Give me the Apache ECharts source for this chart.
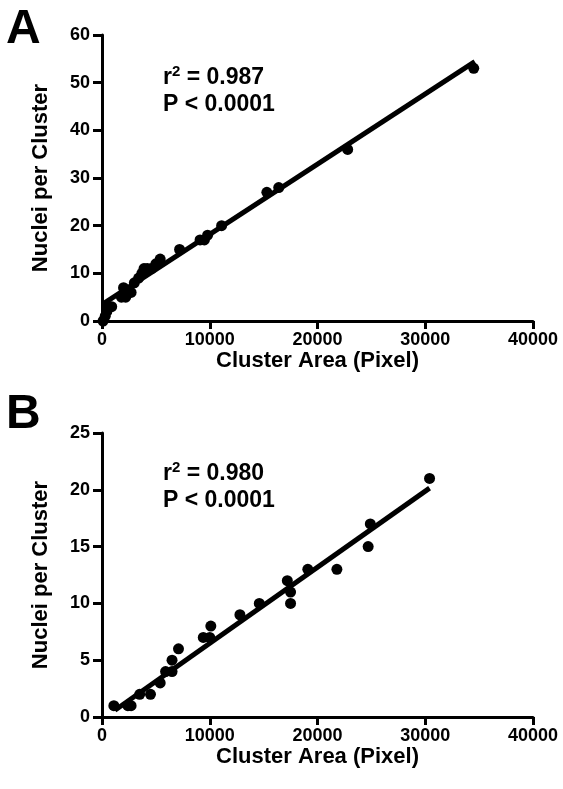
<!DOCTYPE html>
<html>
<head>
<meta charset="utf-8">
<script src="https://cdn.jsdelivr.net/npm/echarts@6/dist/echarts.min.js"></script>
<style>html,body{margin:0;padding:0;background:#fff}#c{width:563px;height:789px}</style>
</head>
<body>
<div id="c"></div>
<script>
// Panel A: Cluster Area (Pixel) vs Nuclei per Cluster
var pointsA = [
  [100,0],[300,1],[450,2],[600,3],[900,3],[1800,5],[2200,5],[2000,7],[2400,6],[2700,6],
  [3000,8],[3400,9],[3700,10],[3900,11],[4200,11],[4600,11],[5000,12],[5400,13],
  [7200,15],[9100,17],[9500,17],[9800,18],[11100,20],[15300,27],[16400,28],[22800,36],[34500,53]
];
var fitA = [[100,3.6],[34600,54.4]];
// Panel B
var pointsB = [
  [1100,1],[2400,1],[2700,1],[3500,2],[4500,2],[5400,3],[5900,4],[6500,4],[6500,5],[7100,6],
  [9400,7],[10000,7],[10100,8],[12800,9],[14600,10],[17200,12],[17500,11],[17500,10],
  [19100,13],[21800,13],[24700,15],[24900,17],[30400,21]
];
var fitB = [[1200,0.6],[30400,20.15]];
var xTicks = [0,10000,20000,30000,40000];
var yTicksA = [0,10,20,30,40,50,60];
var yTicksB = [0,5,10,15,20,25];
var statsA = ['0.987','< 0.0001'];
var statsB = ['0.980','< 0.0001'];

var FONT = 'Liberation Sans, Arial, sans-serif';
var chart = echarts.init(document.getElementById('c'));

function xAxisCfg(gi){
  return {
    gridIndex: gi, type:'value', min: xTicks[0], max: xTicks[xTicks.length-1], interval: 10000,
    name:'Cluster Area (Pixel)', nameLocation:'middle', nameGap: 17,
    nameTextStyle:{fontFamily:FONT, fontWeight:'bold', fontSize:22, color:'#000'},
    axisLine:{show:true, onZero:false, lineStyle:{color:'#000', width:3}},
    axisTick:{show:true, length:8, lineStyle:{color:'#000', width:3}},
    axisLabel:{fontFamily:FONT, fontWeight:'bold', fontSize:18, color:'#000', margin:10,
      formatter:function(v){return String(v);}},
    splitLine:{show:false}
  };
}
function yAxisCfg(gi, ticks, iv){
  return {
    gridIndex: gi, type:'value', min: ticks[0], max: ticks[ticks.length-1], interval: iv,
    name:'Nuclei per Cluster', nameLocation:'middle', nameGap: 50,
    nameTextStyle:{fontFamily:FONT, fontWeight:'bold', fontSize:22, color:'#000'},
    axisLine:{show:true, onZero:false, lineStyle:{color:'#000', width:3}},
    axisTick:{show:true, length:9, lineStyle:{color:'#000', width:3}},
    axisLabel:{fontFamily:FONT, fontWeight:'bold', fontSize:18, color:'#000', margin:12,
      formatter:function(v){return String(v);}},
    splitLine:{show:false}
  };
}
function statText(left, top, s){
  return {
    type:'text', left:left, top:top,
    style:{
      text:'{r|r}{sup|2}{r| = ' + s[0] + '}\n{r|P ' + s[1] + '}',
      rich:{
        r:{fontFamily:FONT, fontWeight:'bold', fontSize:23, fill:'#000', lineHeight:27},
        sup:{fontFamily:FONT, fontWeight:'bold', fontSize:15, fill:'#000', verticalAlign:'top', lineHeight:18}
      }
    }
  };
}

chart.setOption({
  animation:false,
  backgroundColor:'#fff',
  grid:[
    {left:102, top:35, width:431, height:286},
    {left:102, top:433, width:431, height:284}
  ],
  xAxis:[xAxisCfg(0), xAxisCfg(1)],
  yAxis:[yAxisCfg(0, yTicksA, 10), yAxisCfg(1, yTicksB, 5)],
  series:[
    {type:'scatter', xAxisIndex:0, yAxisIndex:0, data:pointsA, symbolSize:11, itemStyle:{color:'#000', opacity:1}},
    {type:'line', xAxisIndex:0, yAxisIndex:0, data:fitA, showSymbol:false, lineStyle:{color:'#000', width:5}},
    {type:'scatter', xAxisIndex:1, yAxisIndex:1, data:pointsB, symbolSize:11, itemStyle:{color:'#000', opacity:1}},
    {type:'line', xAxisIndex:1, yAxisIndex:1, data:fitB, showSymbol:false, lineStyle:{color:'#000', width:5}}
  ],
  graphic:[
    {type:'text', left:6, top:6, style:{text:'A', fontFamily:FONT, fontWeight:'bold', fontSize:48, fill:'#000'}},
    {type:'text', left:6, top:391, style:{text:'B', fontFamily:FONT, fontWeight:'bold', fontSize:48, fill:'#000'}},
    statText(163, 64, statsA),
    statText(163, 460, statsB)
  ]
});
</script>
</body>
</html>
